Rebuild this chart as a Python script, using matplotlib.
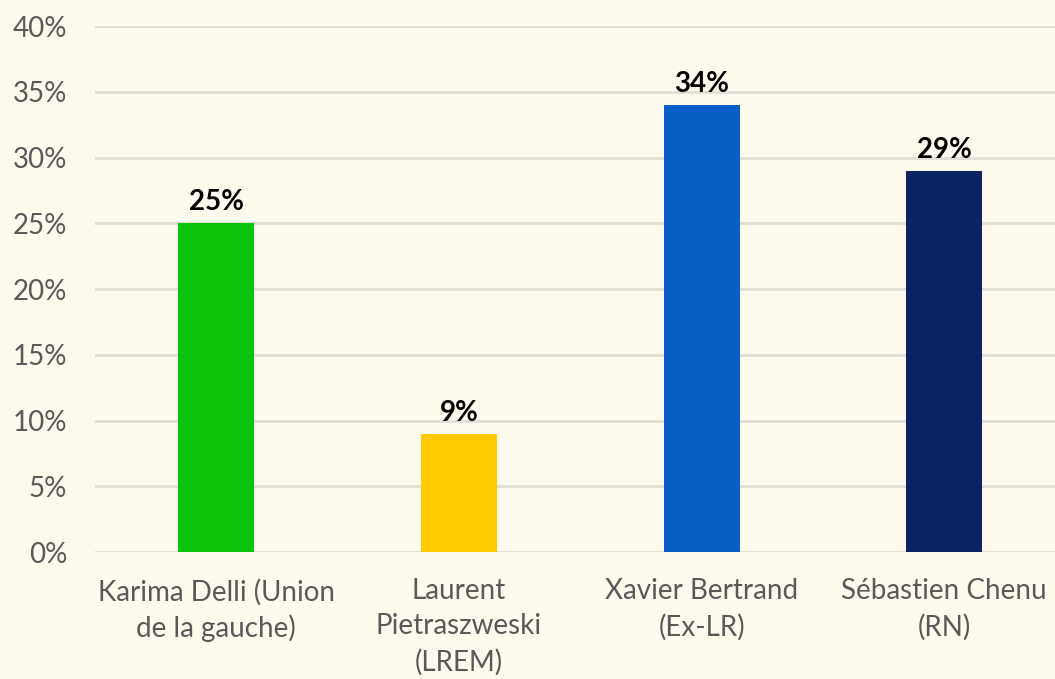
import matplotlib
matplotlib.use("Agg")
import matplotlib.pyplot as plt
from matplotlib.ticker import FuncFormatter

# candidates and first-round vote share
candidates = ["Karima Delli (Union\nde la gauche)", "Laurent\nPietraszweski\n(LREM)",
              "Xavier Bertrand\n(Ex-LR)", "Sébastien Chenu\n(RN)"]
scores = [0.25, 0.09, 0.34, 0.29]
colors = ["#0BC40B", "#FFCA00", "#0A5FC6", "#0A2463"]

bg = "#FEFBEE"
fig = plt.figure(figsize=(10.55, 6.79), dpi=100, facecolor=bg)
ax = fig.add_axes([0.090, 0.187, 0.920, 0.7747], facecolor=bg)

x = range(len(candidates))
bars = ax.bar(x, scores, width=0.313, color=colors, zorder=3)

for b, s in zip(bars, scores):
    ax.text(b.get_x() + b.get_width() / 2, s + 0.006, f"{round(s * 100)}%",
            ha="center", va="bottom", fontsize=20, fontweight="bold",
            family="Lato", color="black")

ax.set_xlim(-0.5, 3.5)
ax.set_ylim(0, 0.40)
ax.set_yticks([i * 0.05 for i in range(9)])
ax.yaxis.set_major_formatter(FuncFormatter(lambda v, _: f"{round(v * 100)}%"))
ax.set_xticks(list(x))
ax.set_xticklabels(candidates)

ax.grid(axis="y", color="#E0DED5", linewidth=2, zorder=0)
for sp in ax.spines.values():
    sp.set_visible(False)
ax.tick_params(length=0, labelsize=20, labelcolor="#595959")
ax.tick_params(axis="y", pad=20)
ax.tick_params(axis="x", pad=19)
for t in ax.get_xticklabels() + ax.get_yticklabels():
    t.set_family("Lato")
for t in ax.get_xticklabels():
    t.set_linespacing(1.42)

fig.savefig("out.png", dpi=100, facecolor=bg)
